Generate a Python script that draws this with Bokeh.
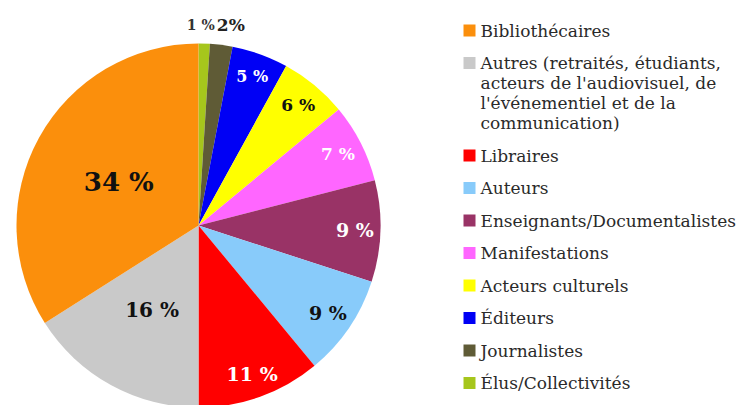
import numpy as np
from bokeh.plotting import figure
from bokeh.models import ColumnDataSource, Range1d
from bokeh.core.properties import value
from bokeh.embed import file_html
from bokeh.resources import INLINE

# ---- data (clockwise from top) ----
categories = ["Élus/Collectivités", "Journalistes", "Éditeurs", "Acteurs culturels",
              "Manifestations", "Enseignants/Documentalistes", "Auteurs", "Libraires",
              "Autres (retraités, étudiants,\nacteurs de l'audiovisuel, de\nl'événementiel et de la\ncommunication)",
              "Bibliothécaires"]
shares = [1, 2, 5, 6, 7, 9, 9, 11, 16, 34]
labels = ["1 %", "2%", "5 %", "6 %", "7 %", "9 %", "9 %", "11 %", "16 %", "34 %"]
colors = ["#a6c61c", "#5f5b36", "#0000f5", "#ffff00", "#ff66ff", "#993366",
          "#88cbfa", "#ff0000", "#c9c9c9", "#fb8f0c"]
label_colors = ["#333333", "#222222", "#ffffff", "#111111", "#ffffff", "#ffffff",
                "#111111", "#ffffff", "#111111", "#111111"]
label_sizes = ["14px", "17px", "16px", "17px", "17px", "19px", "19px", "19px", "20px", "26px"]
label_frac = [1.10, 1.11, 0.87, 0.86, 0.86, 0.86, 0.86, 0.87, 0.53, 0.50]
label_dx = [-4, 7, 0, 0, 0, 0, 0, 0, 0, 0]

# legend order (top to bottom)
legend_order = [9, 8, 7, 6, 5, 4, 3, 2, 1, 0]

W, H = 742, 405
cx, cy, R = 198, 180, 182

p = figure(width=W, height=H, output_backend="svg", toolbar_location=None,
           x_range=Range1d(0, W), y_range=Range1d(0, H), min_border=0)
p.axis.visible = False
p.grid.visible = False
p.outline_line_color = None
p.background_fill_color = "white"

vals = np.array(shares, dtype=float)
frac = vals / vals.sum()
cum = np.concatenate([[0], np.cumsum(frac)])
start = np.pi / 2 - 2 * np.pi * cum[:-1]
end = np.pi / 2 - 2 * np.pi * cum[1:]
mid = (start + end) / 2

src = ColumnDataSource(dict(start=start, end=end, color=colors))
p.wedge(x=cx, y=cy, radius=R, start_angle="start", end_angle="end",
        direction="clock", fill_color="color", line_color=None, source=src)

lr = R * np.array(label_frac)
lsrc = ColumnDataSource(dict(x=cx + lr * np.cos(mid), y=cy + lr * np.sin(mid),
                             text=labels, color=label_colors, size=label_sizes,
                             dx=label_dx))
p.text(x="x", y="y", text="text", text_color="color", text_font_size="size",
       x_offset="dx",
       text_font=value("DejaVu Serif"), text_font_style="bold",
       text_align="center", text_baseline="middle", source=lsrc)

# ---- legend ----
line_h = 20
pitch = 32.5
top_y = 405 - 30
ys = []
y = top_y
for i in legend_order:
    ys.append(y)
    nlines = categories[i].count("\n") + 1
    y -= pitch + line_h * (nlines - 1)

leg = ColumnDataSource(dict(
    x=[469] * len(legend_order), y=ys,
    color=[colors[i] for i in legend_order]))
p.scatter(x="x", y="y", marker="square", size=12, fill_color="color",
          line_color=None, source=leg)
p.text(x=480, y=[v + 10 for v in ys], text=[categories[i] for i in legend_order],
       text_font=value("DejaVu Serif"), text_font_style="normal",
       text_font_size="17px", text_color="#2a2a2a",
       text_align="left", text_baseline="top", text_line_height=1.0)

open("out.html", "w").write(file_html(p, INLINE))
